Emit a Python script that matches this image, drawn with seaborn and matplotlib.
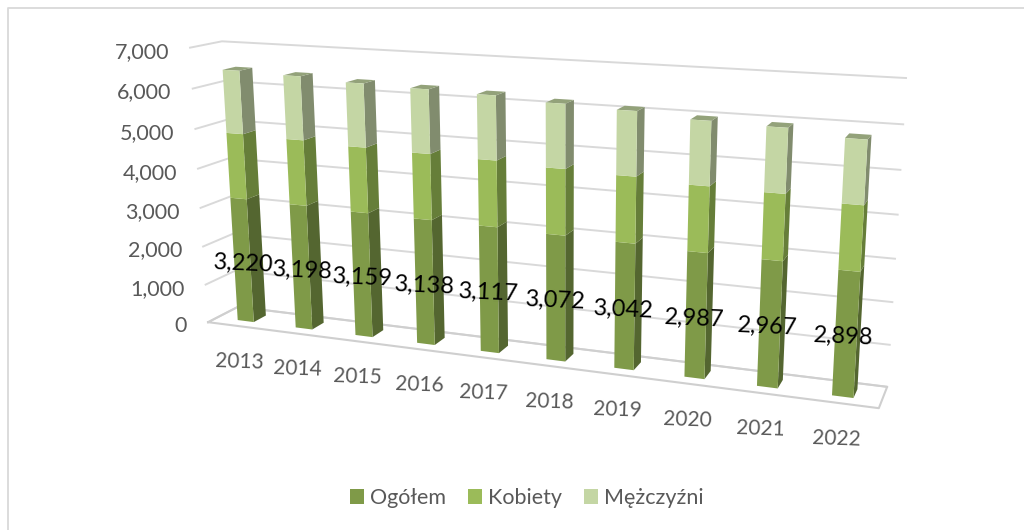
import numpy as np
import pandas as pd
import matplotlib
matplotlib.use('Agg')
import matplotlib.pyplot as plt
import matplotlib.transforms as mtransforms
from matplotlib.lines import Line2D
from matplotlib.patches import Polygon
import seaborn as sns

years = ['2013', '2014', '2015', '2016', '2017', '2018', '2019', '2020', '2021', '2022']
ogolem = [3220, 3198, 3159, 3138, 3117, 3072, 3042, 2987, 2967, 2898]
kobiety = [1650, 1635, 1615, 1605, 1595, 1570, 1555, 1525, 1515, 1475]
mezczyzni = [1570, 1563, 1544, 1533, 1522, 1502, 1487, 1462, 1452, 1423]
y_ticks = [0, 1000, 2000, 3000, 4000, 5000, 6000, 7000]

names = ['Ogółem', 'Kobiety', 'Mężczyźni']
front_colors = ['#7F9A48', '#9BBB59', '#C4D6A4']
side_colors = ['#546630', '#667E39', '#818C6E']
top_color = '#93A27A'
grid_color = '#D9D9D9'
text_color = '#595959'

W, H = 1024, 530
BAR_W = 0.28
Z_FRONT, Z_BACK = 0.30, 0.72
Y_MAX = 7000


def solve_camera():
    # box corners (u, value, depth) -> where they sit in the 1024x530 picture
    corners = [
        (0, 0, 0, 208, 322), (1, 0, 0, 879, 408),
        (0, 0, 1, 238, 307), (1, 0, 1, 887, 387),
        (0, 1, 1, 222, 41), (1, 1, 1, 906, 78),
        (0, 1, 0, 190, 48),
    ]
    rows = []
    for u, v, z, px, py in corners:
        rows.append([u, v, z, 1, 0, 0, 0, 0, -px*u, -px*v, -px*z, -px])
        rows.append([0, 0, 0, 0, u, v, z, 1, -py*u, -py*v, -py*z, -py])
    return np.linalg.svd(np.array(rows, dtype=float))[2][-1].reshape(3, 4)


CAM = solve_camera()


def project(x, value, z):
    # x is the category position, value is on the y scale, z is depth (0 front, 1 back)
    x, value, z = np.broadcast_arrays(np.asarray(x, float), np.asarray(value, float), np.asarray(z, float))
    pts = np.stack([(x + 0.5) / 10, value / Y_MAX, z, np.ones_like(x)], axis=-1)
    p = pts @ CAM.T
    return np.stack([p[..., 0] / p[..., 2], H - p[..., 1] / p[..., 2]], axis=-1)


class DepthPlane(mtransforms.Transform):
    input_dims = 2
    output_dims = 2

    def __init__(self, z):
        super().__init__()
        self.z = z

    def transform_non_affine(self, values):
        values = np.asarray(values, float)
        return project(values[:, 0], values[:, 1], self.z)


df = pd.DataFrame({'Rok': years, names[0]: ogolem, names[1]: kobiety, names[2]: mezczyzni})

plt.rcParams['font.family'] = ['Lato', 'DejaVu Sans']
fig = plt.figure(figsize=(W / 100, H / 100), dpi=100)
ax = fig.add_axes([0, 0, 1, 1])

# walls and floor
for v in y_ticks:
    pts = project([-0.5, -0.5, 9.5], v, [0, 1, 1])
    ax.add_line(Line2D(pts[:, 0], pts[:, 1], transform=mtransforms.IdentityTransform(),
                       color=grid_color, lw=1.4, zorder=1, clip_on=False))
floor = project([-0.5, 9.5, 9.5, -0.5, -0.5], 0, [0, 0, 1, 1, 0])
ax.add_line(Line2D(floor[:, 0], floor[:, 1], transform=mtransforms.IdentityTransform(),
                   color='#CFCFCF', lw=1.5, zorder=1, clip_on=False))

# stacked bars, front faces come from seaborn and get moved on the depth plane
bottom = np.zeros(len(years))
front_plane = DepthPlane(Z_FRONT)
identity = mtransforms.IdentityTransform()
for name, col, side in zip(names, front_colors, side_colors):
    n_before = len(ax.patches)
    sns.barplot(data=df, x='Rok', y=name, color=col, saturation=1, width=BAR_W,
                bottom=bottom, errorbar=None, label=name, ax=ax, legend=False)
    for patch in ax.patches[n_before:]:
        patch.set_transform(front_plane)
        patch.set_clip_on(False)
        patch.set_zorder(4)
        patch.set_linewidth(0)
    for i, h in enumerate(df[name]):
        xr = i + BAR_W / 2
        quad = np.vstack([project(xr, bottom[i], Z_FRONT), project(xr, bottom[i], Z_BACK),
                          project(xr, bottom[i] + h, Z_BACK), project(xr, bottom[i] + h, Z_FRONT)])
        ax.add_patch(Polygon(quad, closed=True, transform=identity, facecolor=side,
                             edgecolor='none', zorder=3, clip_on=False))
    bottom = bottom + df[name].to_numpy()

for i, total in enumerate(bottom):
    xl, xr = i - BAR_W / 2, i + BAR_W / 2
    quad = np.vstack([project(xl, total, Z_FRONT), project(xr, total, Z_FRONT),
                      project(xr, total, Z_BACK), project(xl, total, Z_BACK)])
    ax.add_patch(Polygon(quad, closed=True, transform=identity, facecolor=top_color,
                         edgecolor='none', zorder=3, clip_on=False))

# value labels
for i, val in enumerate(ogolem):
    px, py = project(i, val / 2, 0.5)
    ax.text(px - 4.5, py - 6, f'{val:,}', transform=identity, ha='center', va='center',
            fontsize=17, color='black', rotation=-2.5, zorder=6)

# axis labels
for v in y_ticks:
    px, py = project(-0.5, v, 0)
    ax.text(px - 21, py - 4, f'{v:,}', transform=identity, ha='right', va='center',
            fontsize=15.5, color=text_color, zorder=6)
for i, year in enumerate(years):
    px, py = project(i, 0, 0)
    ax.text(px + 3 - 0.7 * i, py - 35.5, year, transform=identity, ha='center', va='center',
            fontsize=15, color=text_color, rotation=-2, zorder=6)

ax.set_xlim(-0.5, 9.5)
ax.set_ylim(0, Y_MAX)
ax.axis('off')

handles = [plt.Rectangle((0, 0), 1, 1, facecolor=c) for c in front_colors]
ax.legend(handles, names, ncol=3, loc='center', bbox_to_anchor=(527 / W, 1 - 498 / H),
          bbox_transform=fig.transFigure, frameon=False, fontsize=15.5, labelcolor=text_color,
          handlelength=0.65, handleheight=0.65, handletextpad=0.3, columnspacing=1.0)

# chart frame, only top and left are in the picture
fig.add_artist(Line2D([8 / W, 8 / W, 1], [0, 1 - 8 / H, 1 - 8 / H], color=grid_color, lw=1.3))

fig.savefig('out.png', dpi=100)
